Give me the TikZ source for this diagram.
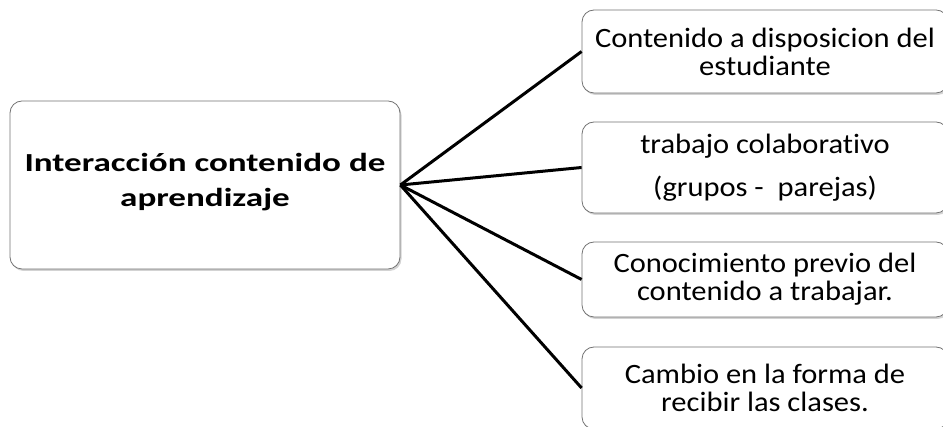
\documentclass[tikz,border=0pt]{standalone}
\usepackage{fontspec}
\setmainfont{Carlito}
\newfontfamily\leafFont[FakeStretch=1.09,RawFeature={-liga}]{Carlito}
\newfontfamily\rootFont[FakeStretch=1.35,RawFeature={-liga}]{Carlito}
\usetikzlibrary{shadows}
\begin{document}
\begin{tikzpicture}[x=1pt,y=1pt,-,line width=3pt]
		\tikzstyle{box}=[draw=black!55,line width=0.8pt,fill=white,rounded corners=12pt,align=center,drop shadow={shadow xshift=1.5pt,shadow yshift=-2pt,opacity=0.35}]
		\tikzstyle{leaf}=[box,minimum width=366pt,font=\leafFont\fontsize{28}{28}\selectfont]
		\useasboundingbox (0,0) rectangle (943,427);
		
		\node[box,minimum width=390pt,minimum height=168pt,font=\rootFont\fontsize{26}{35}\selectfont\bfseries] (main) at (205,242) {\mbox{}\\[-23pt]Interacción contenido de\\aprendizaje};
		\node[leaf,minimum height=83pt] (c1) at (765,375.5) {Contenido a disposicion del\\estudiante};
		\node[leaf,minimum height=91pt] (c2) at (765,259.5) {trabajo colaborativo\\[15pt](grupos -\ \ parejas)};
		\node[leaf,minimum height=75pt] (c3) at (765,147.5) {Conocimiento previo del\\contenido a trabajar.};
		\node[leaf,minimum height=82pt] (c4) at (765,39) {Cambio en la forma de\\recibir las clases.};
		
		\draw (main.east) -- (c1.west);
		\draw (main.east) -- (c2.west);
		\draw (main.east) -- (c3.west);
		\draw (main.east) -- (c4.west);
	\end{tikzpicture}
\end{document}
